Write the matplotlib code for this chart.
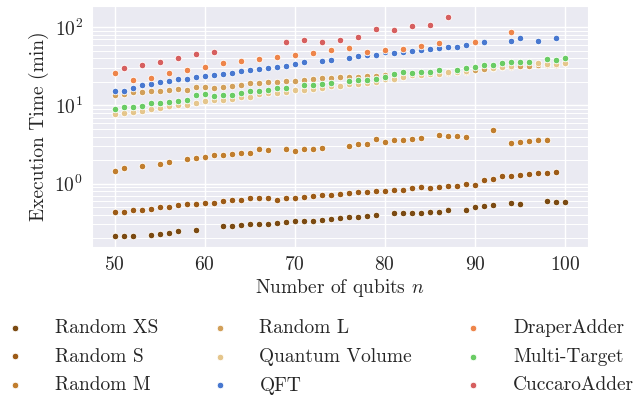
import numpy as np
import matplotlib
matplotlib.use('Agg')
import matplotlib.pyplot as plt
import seaborn as sns

nan = np.nan

qubits = list(range(50, 101))

random_xs = [0.213, 0.213, 0.213, nan, 0.222, 0.224, 0.233, 0.245, nan, 0.255,
             nan, nan, 0.284, 0.284, 0.292, 0.304, 0.304, 0.304, 0.313, 0.319,
             0.329, 0.333, 0.336, 0.345, 0.353, 0.363, 0.374, 0.378, 0.385, 0.397,
             nan, 0.416, 0.416, 0.425, 0.425, 0.438, 0.438, 0.455, nan, 0.464,
             0.497, 0.518, 0.538, nan, 0.559, 0.549, nan, nan, 0.600, 0.576,
             0.588]
random_s = [0.438, 0.438, 0.455, 0.464, 0.474, 0.497, 0.507, 0.527, 0.549, 0.549,
            0.559, 0.571, 0.593, 0.624, 0.624, 0.648, 0.648, 0.648, 0.624, 0.648,
            0.662, 0.681, 0.695, 0.723, 0.715, 0.738, 0.760, 0.773, 0.789, 0.813,
            0.806, 0.821, 0.830, 0.870, 0.907, 0.889, 0.915, 0.943, 0.943, 0.980,
            0.971, 1.115, 1.159, 1.24, 1.266, 1.293, 1.33, 1.355, 1.384, 1.41,
            nan]
random_m = [1.455, 1.59, nan, 1.667, nan, 1.79, 1.90, nan, 2.05, 2.14,
            2.22, 2.31, 2.31, 2.40, 2.48, 2.48, 2.79, 2.70, nan, 2.73,
            2.65, 2.73, 2.73, 2.84, nan, nan, 3.07, 3.19, 3.19, 3.74,
            3.38, 3.56, 3.63, 3.70, 3.78, nan, 4.21, 4.09, 4.01, 3.92,
            nan, nan, 4.92, nan, 3.32, 3.45, 3.49, 3.66, 3.63, nan,
            nan]
random_l = [13.8, 14.0, 14.8, 15.0, 15.5, 15.5, 15.8, 16.2, 16.0, 17.1,
            17.4, 16.9, 17.4, 17.6, 18.2, 19.1, 19.1, 19.7, 19.8, 20.3,
            20.3, 21.4, 22.1, 22.5, 22.5, 23.0, 23.0, 23.0, 23.5, 23.7,
            24.2, 23.9, 24.2, 24.6, 25.0, 25.3, 25.7, 26.1, 26.5, 26.9,
            28.5, 28.9, 29.8, 30.7, 31.2, 31.6, 31.6, 32.6, 33.1, 33.1,
            34.6]
quantum_volume = [7.8, 8.0, 8.2, 8.5, 8.9, 9.15, 9.8, 10.2, 10.2, 10.9,
                  11.25, 11.9, 11.9, 12.2, 13.0, 12.9, 14.1, 14.4, 14.4, 14.7,
                  15.7, 15.9, 16.4, 16.7, 17.5, 17.9, 19.0, 19.0, 19.3, 19.9,
                  22.0, 22.0, 23.1, 24.6, 24.8, 25.2, 25.0, 26.5, 26.5, 27.3,
                  nan, nan, 30.4, 31.0, 32.3, nan, nan, 34.8, 33.5, 33.5,
                  34.8]
qft = [15.1, 15.4, 16.9, 18.1, 18.6, 19.9, 20.5, 21.5, 22.0, 23.1,
       23.5, 24.8, 25.5, 26.4, 27.3, 28.7, 29.2, 30.1, 31.2, 32.1,
       34.2, 35.9, nan, 37.0, 37.8, nan, 40.4, 42.5, 44.7, 44.8,
       48.2, 46.9, 48.8, 49.2, 51.8, 52.7, 54.9, 56.7, 56.7, 58.8,
       nan, 64.8, nan, nan, 67.7, 72.9, nan, 66.2, nan, 72.9,
       nan]
multi_target = [8.9, 9.6, 9.5, 9.8, 10.9, 10.8, 11.0, 11.5, 11.6, 13.5,
                14.0, 13.2, 13.7, 13.8, 14.3, 15.1, 15.4, 16.0, 16.9, 16.9,
                nan, 18.2, 18.2, 18.6, 19.5, nan, 20.5, 20.9, 21.4, 22.1,
                23.1, 25.4, 26.5, 25.9, 26.7, 27.1, 28.1, nan, 28.1, 29.8,
                30.7, 32.6, 33.2, 34.6, 36.0, 36.1, 36.5, nan, 38.9, 38.5,
                40.1]

draper_n = [50, 52, 54, 56, 58, 60, 62, 64, 66, 68, 70, 72, 74, 76, 78, 80, 82, 84, 86, 90, 94]
draper_t = [25.7, 21.1, 22.4, 25.7, 28.7, 31.0, 34.5, 37.4, 39.7, 41.6, 44.7,
            46.9, 50.7, 54.9, 47.8, 51.2, 53.3, 57.1, 62.9, 64.8, 86.3]

cuccaro_n = [51, 53, 55, 57, 59, 61, 69, 71, 73, 75, 77, 79, 81, 83, 85, 87]
cuccaro_t = [30.4, 32.6, 35.9, 40.4, 45.1, 48.2, 64.8, 69.5, 64.8, 69.5,
             75.1, 94.3, 92.4, 103, 106, 137]

labels = ['Random XS', 'Random S', 'Random M', 'Random L', 'Quantum Volume',
          'QFT', 'DraperAdder', 'Multi-Target', 'CuccaroAdder']
colors = ['#7b4a12', '#9c5b17', '#c17e2e', '#d2a05a', '#e5c68c',
          '#4878d0', '#ee854a', '#6acc64', '#d65f5f']


def setup_style():
    sns.set_style('darkgrid')
    plt.rcParams['font.family'] = 'serif'
    plt.rcParams['font.serif'] = ['cmr10']
    plt.rcParams['mathtext.fontset'] = 'cm'
    plt.rcParams['axes.formatter.use_mathtext'] = True
    plt.rcParams['font.size'] = 14


def plot_results():
    fig = plt.figure(figsize=(6.34, 4.0), dpi=100)
    ax = fig.add_axes([0.1451, 0.3825, 0.7816, 0.6033])

    series = [(qubits, random_xs), (qubits, random_s), (qubits, random_m),
              (qubits, random_l), (qubits, quantum_volume), (qubits, qft),
              (draper_n, draper_t), (qubits, multi_target), (cuccaro_n, cuccaro_t)]
    for (x, y), lab, col in zip(series, labels, colors):
        ax.scatter(x, y, s=22, color=col, edgecolors='white', linewidths=0.6, label=lab)

    ax.set_yscale('log')
    ax.set_xticks([50, 60, 70, 80, 90, 100])
    ax.tick_params(axis='both', labelsize=14, pad=3)
    ax.grid(which='major', color='white', linewidth=1.0)
    ax.grid(which='minor', axis='y', color='white', linewidth=0.7)
    ax.set_xlabel('Number of qubits $n$', fontsize=14, labelpad=2)
    ax.set_ylabel('Execution Time (min)', fontsize=14, labelpad=4)

    # legend below the axes, three columns
    handles, labs = ax.get_legend_handles_labels()
    fig.legend(handles, labs, ncol=3, loc='upper left', bbox_to_anchor=(-0.0252, 0.2225),
               frameon=False, fontsize=14, markerscale=1.0, handlelength=2.4,
               handletextpad=0.85, columnspacing=1.95, labelspacing=0.56,
               borderaxespad=0.0)

    fig.savefig('out.png', dpi=100)


def main():
    setup_style()
    plot_results()


if __name__ == "__main__":
    main()
